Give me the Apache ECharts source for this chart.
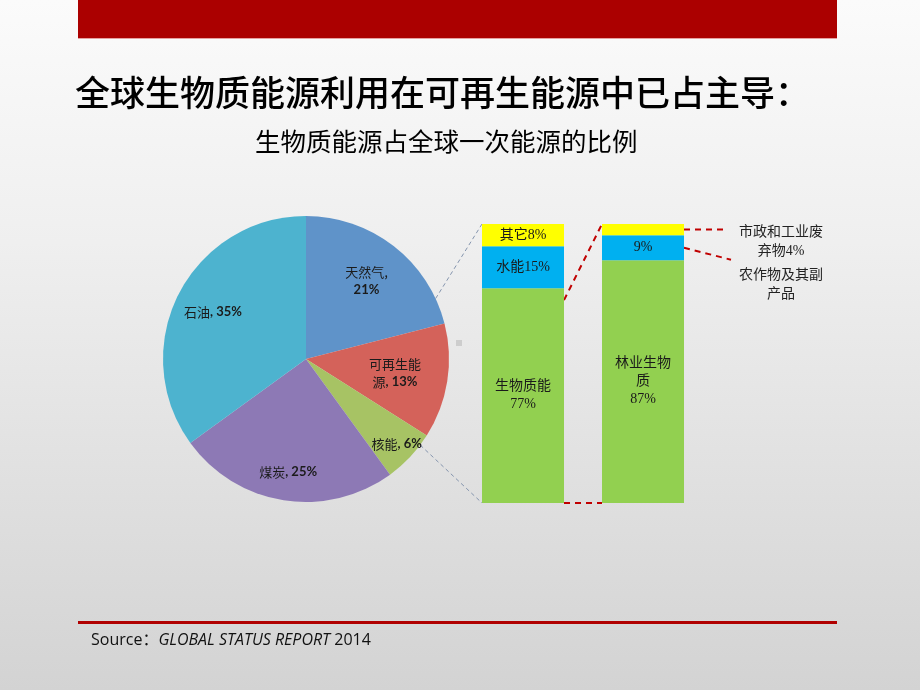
<!DOCTYPE html>
<html>
<head>
<meta charset="utf-8">
<script src="https://cdn.jsdelivr.net/npm/echarts@6/dist/echarts.min.js"></script>
<style>
html,body{margin:0;padding:0;}
#chart{width:920px;height:690px;background:linear-gradient(to bottom,#fbfbfb 0%,#efefef 35%,#d3d3d3 100%);}
</style>
</head>
<body>
<div id="chart"></div>
<script>
// ---- data ----
const titleText = '全球生物质能源利用在可再生能源中已占主导：';
const subtitleText = '生物质能源占全球一次能源的比例';
const pieNames = ['天然气', '可再生能源', '核能', '煤炭', '石油'];
const pieValues = [21, 13, 6, 25, 35];
const pieLabelNames = ['天然气,', '可再生能\n源,', '核能,', '煤炭,', '石油,'];
const barCategories = ['可再生能源构成', '生物质能源构成'];
const bottomValues = [77, 87];   // 生物质能 / 林业生物质
const middleValues = [15, 9];    // 水能 / 农作物及其副产品
const topValues = [8, 4];        // 其它 / 市政和工业废弃物
const bottomNames = ['生物质能', '林业生物\n质'];
const middleNames = ['水能', ''];
const topNames = ['其它', ''];
const sideNotes = ['市政和工业废\n弃物4%', '农作物及其副\n产品'];
const sourceText = ['Source：', 'GLOBAL STATUS REPORT', ' 2014'];

// ---- style ----
const pieColors = ['#5f93c9', '#d4625a', '#a7c364', '#8d79b5', '#4db3cf'];
const pieCenter = [306, 359];
const pieRadius = 143;
const labelRadiusFactor = [0.69, 0.63, 0.87, 0.8, 0.73];
const cjk = "'Noto Sans CJK SC'";
const serifMix = "'Liberation Serif','Noto Sans CJK SC'";
const numFont = "Lato,'Noto Sans CJK SC'";

const chart = echarts.init(document.getElementById('chart'), null, {renderer: 'canvas'});

const total = pieValues.reduce((a, b) => a + b, 0);
const midAngles = [];
let cum = 0;
pieValues.forEach(v => { midAngles.push((cum + v / 2) / total * 2 * Math.PI); cum += v; });

function pieLabel(i) {
  const lines = pieLabelNames[i].split('\n');
  const pct = pieValues[i] + '%';
  if (lines.length === 1) {
    const name = lines[0];
    if (i === 0) return '{n|' + name + '}\n{b|' + pct + '}';
    return '{n|' + name.replace(',', '') + '}{b|, ' + pct + '}';
  }
  return '{n|' + lines[0] + '}\n{n|' + lines[1].replace(',', '') + '}{b|, ' + pct + '}';
}

const barLabelStyle = {fontFamily: serifMix, fontSize: 14, color: '#1a1a1a', lineHeight: 18};

const option = {
  animation: false,
  title: [
    {text: titleText, left: 70, top: 70, textStyle: {fontFamily: cjk, fontSize: 35, fontWeight: 500, color: '#000'}},
    {text: subtitleText, left: 250, top: 124, textStyle: {fontFamily: cjk, fontSize: 25.5, fontWeight: 'normal', color: '#000'}},
    {text: '{a|' + sourceText[0] + '}{i|' + sourceText[1] + '}{a|' + sourceText[2] + '}', left: 86, top: 627,
      textStyle: {fontWeight: 'normal', rich: {
        a: {fontFamily: "'Open Sans','Noto Sans CJK SC'", fontWeight: 'normal', fontSize: 16, color: '#111'},
        i: {fontFamily: "'Open Sans'", fontStyle: 'italic', fontWeight: 'normal', fontSize: 16, color: '#111'}
      }}}
  ],
  grid: {left: 463, width: 240, top: 224, height: 279},
  xAxis: {type: 'category', data: barCategories, show: false},
  yAxis: {type: 'value', min: 0, max: 100, show: false},
  series: [
    {
      type: 'pie', center: pieCenter, radius: [0, pieRadius], startAngle: 90, clockwise: true,
      data: pieNames.map((n, i) => ({name: n, value: pieValues[i], itemStyle: {color: pieColors[i]}})),
      itemStyle: {borderWidth: 0},
      emphasis: {disabled: true},
      label: {
        show: true, position: 'inside',
        formatter: p => pieLabel(p.dataIndex),
        rich: {
          n: {fontFamily: cjk, fontSize: 13, color: '#1b1b1b', lineHeight: 18},
          b: {fontFamily: numFont, fontWeight: 'bold', fontSize: 13, color: '#1b1b1b', lineHeight: 18}
        }
      },
      labelLine: {show: false},
      labelLayout: function (params) {
        const i = params.dataIndex;
        const a = midAngles[i];
        const r = pieRadius * labelRadiusFactor[i];
        return {x: pieCenter[0] + r * Math.sin(a), y: pieCenter[1] - r * Math.cos(a), align: 'center', verticalAlign: 'middle'};
      }
    },
    {
      type: 'bar', stack: 'b', barWidth: 82, data: bottomValues,
      itemStyle: {color: '#92d050'},
      label: {show: true, position: 'inside', ...barLabelStyle,
        formatter: p => bottomNames[p.dataIndex] + '\n' + p.value + '%'}
    },
    {
      type: 'bar', stack: 'b', barWidth: 82, data: middleValues,
      itemStyle: {color: '#00b0f0'},
      label: {show: true, position: 'inside', ...barLabelStyle,
        formatter: p => middleNames[p.dataIndex] + p.value + '%'}
    },
    {
      type: 'bar', stack: 'b', barWidth: 82, data: topValues,
      itemStyle: {color: '#ffff00'},
      label: {show: true, position: 'inside', ...barLabelStyle,
        formatter: p => topNames[p.dataIndex] ? topNames[p.dataIndex] + p.value + '%' : ''}
    }
  ]
};
chart.setOption(option);

// connectors derived from the axes
const halfW = 41;
const P = (cat, v) => chart.convertToPixel({gridIndex: 0}, [cat, v]);
const b1Top = P(0, 100), b1Mid = P(0, bottomValues[0]), b1Bot = P(0, 0);
const b2Top = P(1, 100), b2Bot = P(1, 0);
const b2Yellow = P(1, 100 - topValues[1] / 2);
const b2Blue = P(1, bottomValues[1] + middleValues[1] / 2);
const pieEdge = ang => [pieCenter[0] + pieRadius * Math.sin(ang * Math.PI / 180), pieCenter[1] - pieRadius * Math.cos(ang * Math.PI / 180)];
const e1 = pieEdge(65), e2 = pieEdge(127);
const redDash = {stroke: '#c00000', lineWidth: 2, lineDash: [6, 5]};
const grayDash = {stroke: '#8494ad', lineWidth: 1, lineDash: [4, 3]};
const seg = (a, b, style) => ({type: 'line', shape: {x1: a[0], y1: a[1], x2: b[0], y2: b[1]}, style: style, silent: true});

chart.setOption({
  graphic: [
    {type: 'rect', shape: {x: 78, y: 0, width: 759, height: 38}, style: {fill: '#ab0000'}, z: 10},
    {type: 'rect', shape: {x: 78, y: 38, width: 759, height: 1}, style: {fill: '#e5a0a0'}, z: 10},
    {type: 'rect', shape: {x: 78, y: 621, width: 759, height: 3}, style: {fill: '#b00000'}, z: 10},
    {type: 'rect', shape: {x: 456, y: 340, width: 6, height: 6}, style: {fill: '#cdcdcd'}, z: 10},
    seg(e1, [b1Top[0] - halfW, b1Top[1]], grayDash),
    seg(e2, [b1Bot[0] - halfW, b1Bot[1]], grayDash),
    seg([b1Mid[0] + halfW, b1Mid[1] + 12], [b2Top[0] - halfW, b2Top[1]], redDash),
    seg([b1Bot[0] + halfW, b1Bot[1]], [b2Bot[0] - halfW, b2Bot[1]], redDash),
    seg([b2Yellow[0] + halfW, b2Yellow[1]], [b2Yellow[0] + halfW + 42, b2Yellow[1]], redDash),
    seg([b2Blue[0] + halfW, b2Blue[1]], [b2Blue[0] + halfW + 47, b2Blue[1] + 12], redDash),
    {type: 'text', x: 781, y: 242, style: {text: sideNotes[0], font: "14px 'Liberation Serif','Noto Sans CJK SC'", fill: '#222', align: 'center', verticalAlign: 'middle', lineHeight: 19}, z: 10},
    {type: 'text', x: 781, y: 285, style: {text: sideNotes[1], font: "14px 'Liberation Serif','Noto Sans CJK SC'", fill: '#222', align: 'center', verticalAlign: 'middle', lineHeight: 19}, z: 10}
  ]
});
</script>
</body>
</html>
